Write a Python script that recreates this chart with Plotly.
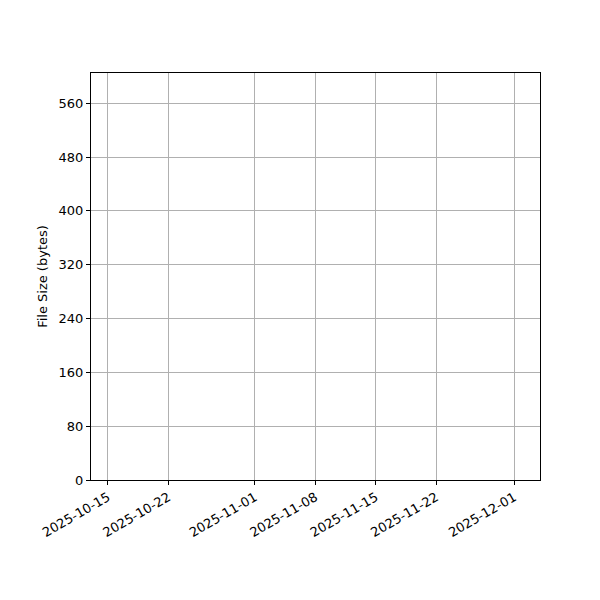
import plotly.graph_objects as go

# no data points are visible in the reference: empty series
dates = []
file_sizes = []

x_tick_vals = ["2025-10-15", "2025-10-22", "2025-11-01", "2025-11-08",
               "2025-11-15", "2025-11-22", "2025-12-01"]
y_tick_vals = [0, 80, 160, 240, 320, 400, 480, 560]

fig = go.Figure()
fig.add_trace(go.Scatter(x=dates, y=file_sizes, mode="lines+markers",
                         line=dict(color="#1f77b4"), showlegend=False))

axis_common = dict(
    showline=True, linecolor="black", linewidth=1, mirror=True,
    ticks="outside", ticklen=4, tickwidth=1, tickcolor="black",
    showgrid=True, gridcolor="#b0b0b0", gridwidth=0.8,
    zeroline=False, tickfont=dict(family="DejaVu Sans", size=13, color="black"),
)

fig.update_xaxes(type="date", range=["2025-10-13 01:00", "2025-12-04 00:00"],
                 tickmode="array", tickvals=x_tick_vals, ticktext=x_tick_vals,
                 tickangle=-30, **axis_common)
fig.update_yaxes(range=[0, 605], tickmode="array", tickvals=y_tick_vals,
                 title=dict(text="File Size (bytes)", standoff=8,
                            font=dict(family="DejaVu Sans", size=13, color="black")),
                 **axis_common)

# page adds ~8px offset, so margins are shifted to land the plot area on the reference's
fig.update_layout(width=600, height=600, plot_bgcolor="white", paper_bgcolor="white",
                  margin=dict(l=83, r=68, t=65, b=128),
                  font=dict(family="DejaVu Sans", color="black"))

fig.write_html("out.html")
